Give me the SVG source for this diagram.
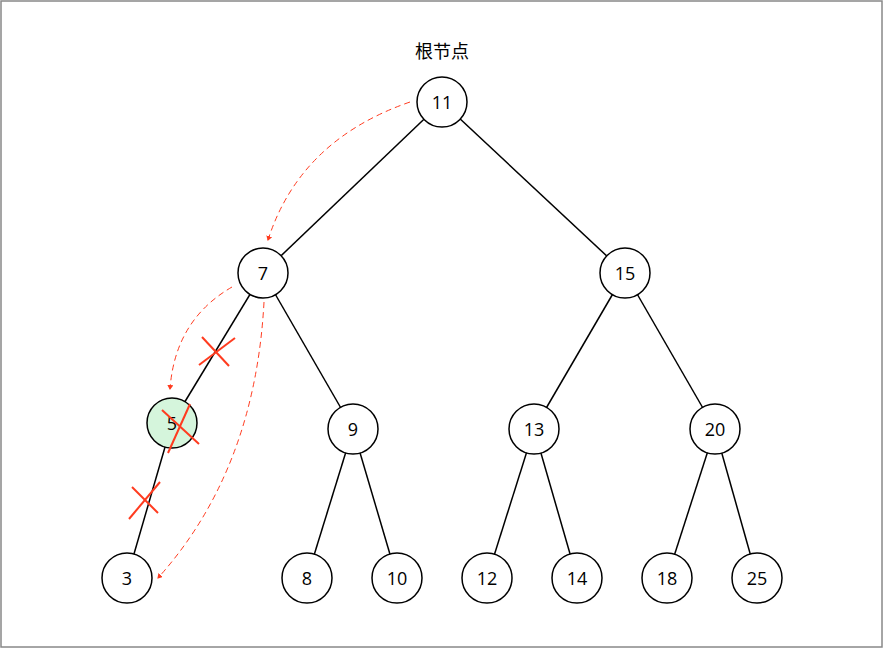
<svg xmlns="http://www.w3.org/2000/svg" width="884" height="649" viewBox="0 0 884 649">
<style>
.n circle{fill:#fff;stroke:#000;stroke-width:1.5}
text{font-family:"Open Sans","Noto Sans CJK SC",sans-serif;font-size:18px;text-anchor:middle;dominant-baseline:central}
.e line{stroke:#000;stroke-width:1.5}
.d{fill:none;stroke:#ff3b1f;stroke-width:1;stroke-dasharray:6 4}
.x{stroke:#ff3b1f;stroke-width:2}
</style>
<defs><marker id="a" markerWidth="6" markerHeight="6" refX="4" refY="3" orient="auto" markerUnits="userSpaceOnUse"><path d="M0,0L5,3L0,6z" fill="#ff3b1f"/></marker></defs>
<rect x="1" y="1" width="881" height="646" fill="#fff" stroke="#888" stroke-width="1.5"/>
<text x="442" y="51">根节点</text>
<g class="e">
<line x1="442" y1="102" x2="263" y2="273"/><line x1="442" y1="102" x2="625" y2="273"/>
<line x1="263" y1="273" x2="172" y2="423"/><line x1="263" y1="273" x2="353" y2="429"/>
<line x1="625" y1="273" x2="534" y2="429"/><line x1="625" y1="273" x2="715" y2="429"/>
<line x1="172" y1="423" x2="127" y2="578"/>
<line x1="353" y1="429" x2="307" y2="578"/><line x1="353" y1="429" x2="397" y2="578"/>
<line x1="534" y1="429" x2="487" y2="578"/><line x1="534" y1="429" x2="577" y2="578"/>
<line x1="715" y1="429" x2="667" y2="578"/><line x1="715" y1="429" x2="757" y2="578"/>
</g>
<g class="n" id="n11"><circle cx="442" cy="102" r="25"/><text x="442" y="102">11</text></g>
<g class="n" id="n7"><circle cx="263" cy="273" r="25"/><text x="263" y="273">7</text></g>
<g class="n" id="n15"><circle cx="625" cy="273" r="25"/><text x="625" y="273">15</text></g>
<g class="n" id="n5"><circle cx="172" cy="423" r="25" style="fill:#d5f5dc"/><text x="172" y="423">5</text></g>
<g class="n" id="n9"><circle cx="353" cy="429" r="25"/><text x="353" y="429">9</text></g>
<g class="n" id="n13"><circle cx="534" cy="429" r="25"/><text x="534" y="429">13</text></g>
<g class="n" id="n20"><circle cx="715" cy="429" r="25"/><text x="715" y="429">20</text></g>
<g class="n" id="n3"><circle cx="127" cy="578" r="25"/><text x="127" y="578">3</text></g>
<g class="n" id="n8"><circle cx="307" cy="578" r="25"/><text x="307" y="578">8</text></g>
<g class="n" id="n10"><circle cx="397" cy="578" r="25"/><text x="397" y="578">10</text></g>
<g class="n" id="n12"><circle cx="487" cy="578" r="25"/><text x="487" y="578">12</text></g>
<g class="n" id="n14"><circle cx="577" cy="578" r="25"/><text x="577" y="578">14</text></g>
<g class="n" id="n18"><circle cx="667" cy="578" r="25"/><text x="667" y="578">18</text></g>
<g class="n" id="n25"><circle cx="757" cy="578" r="25"/><text x="757" y="578">25</text></g>
<g id="connectors">
<path class="d" d="M410,102 Q300,140 268,240" marker-end="url(#a)"/>
<path class="d" d="M232,287 Q175,320 170,389" marker-end="url(#a)"/>
<path class="d" d="M264,302 Q255,470 158,578" marker-end="url(#a)"/>
</g>
<g id="crosses" class="x">
<line x1="199" y1="365" x2="235" y2="338"/><line x1="202" y1="337" x2="229" y2="366"/>
<line x1="162" y1="410" x2="199" y2="444"/><line x1="190" y1="404" x2="168" y2="453"/>
<line x1="129" y1="519" x2="160" y2="482"/><line x1="132" y1="487" x2="158" y2="513"/>
</g>
</svg>
